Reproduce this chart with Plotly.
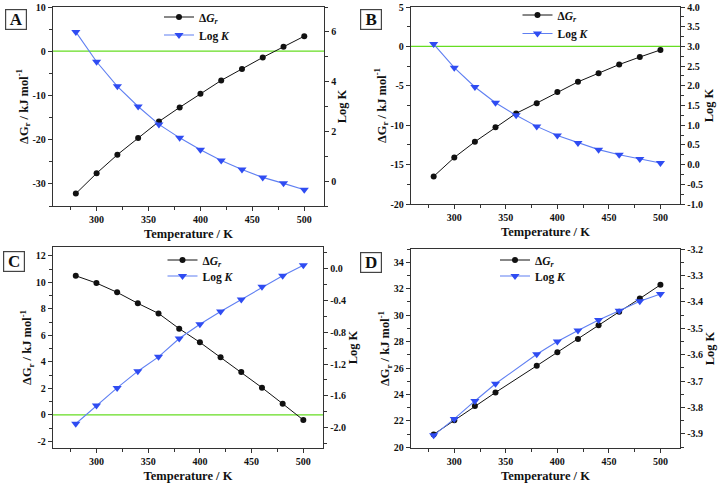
import plotly.graph_objects as go

W, H = 719, 483

# ---------------- data ----------------
T_full = [280, 300, 320, 340, 360, 380, 400, 420, 440, 460, 480, 500]
T_D = [280, 300, 320, 340, 380, 400, 420, 440, 460, 480, 500]

dG_A = [-32.2, -27.6, -23.4, -19.6, -15.9, -12.7, -9.6, -6.6, -4.0, -1.4, 1.0, 3.4]
logK_A = [6.0, 4.8, 3.81, 3.0, 2.28, 1.74, 1.26, 0.83, 0.47, 0.15, -0.09, -0.35]

dG_B = [-16.5, -14.1, -12.1, -10.25, -8.5, -7.2, -5.8, -4.5, -3.4, -2.3, -1.35, -0.45]
logK_B = [3.06, 2.46, 1.97, 1.57, 1.25, 0.97, 0.74, 0.55, 0.38, 0.25, 0.14, 0.04]

dG_C = [10.49, 9.94, 9.24, 8.41, 7.65, 6.5, 5.47, 4.34, 3.23, 2.05, 0.84, -0.39]
logK_C = [-1.95, -1.72, -1.5, -1.29, -1.11, -0.88, -0.70, -0.54, -0.39, -0.23, -0.09, 0.04]

dG_D = [20.98, 22.04, 23.12, 24.15, 26.17, 27.2, 28.2, 29.24, 30.25, 31.25, 32.29]
logK_D = [-3.905, -3.843, -3.775, -3.71, -3.598, -3.55, -3.508, -3.469, -3.434, -3.398, -3.37]

x_ticks = [300, 350, 400, 450, 500]
yL_ticks_A = [-30, -20, -10, 0, 10]
yR_ticks_A = [0, 2, 4, 6]
yL_ticks_B = [-20, -15, -10, -5, 0, 5]
yR_ticks_B = [-1.0, -0.5, 0.0, 0.5, 1.0, 1.5, 2.0, 2.5, 3.0, 3.5, 4.0]
yL_ticks_C = [-2, 0, 2, 4, 6, 8, 10, 12]
yR_ticks_C = [-2.0, -1.6, -1.2, -0.8, -0.4, 0.0]
yL_ticks_D = [20, 22, 24, 26, 28, 30, 32, 34]
yR_ticks_D = [-3.9, -3.8, -3.7, -3.6, -3.5, -3.4, -3.3, -3.2]

panel_labels = ["A", "B", "C", "D"]
x_title = "Temperature / K"
yL_title = "ΔG<sub>r</sub> / kJ mol<sup>-1</sup>"
yR_title = "Log K"
leg_dG = "Δ<i>G<sub>r</sub></i>"
leg_K = "Log <i>K</i>"

# ---------------- styles ----------------
FONT = "Liberation Serif"
BLACK = "#111111"
AX = "#333333"
BLUE_LINE = "#5f7ff2"
BLUE_MK = "#2f4cf2"
GREEN = "#66dd22"


def fx(px):
    return px / W


def fy(py):
    return 1 - py / H


panels = [
    dict(box=(53, 324, 7, 206), T=T_full, dG=dG_A, K=logK_A, yl=[-35, 10], yr=[-1, 7],
         ylt=yL_ticks_A, yrt=yR_ticks_A, lfmt="d", rfmt="d", lminor=5, rminor=1,
         lab=(16, 19), leg=(183, 17, 35)),
    dict(box=(411, 680, 7, 204), T=T_full, dG=dG_B, K=logK_B, yl=[-20, 5], yr=[-1, 4],
         ylt=yL_ticks_B, yrt=yR_ticks_B, lfmt="d", rfmt=".1f", lminor=2.5, rminor=0.25,
         lab=(370.5, 19), leg=(541.5, 15, 33.5)),
    dict(box=(53, 323, 247, 448), T=T_full, dG=dG_C, K=logK_C, yl=[-2.5, 12.66], yr=[-2.255, 0.27],
         ylt=yL_ticks_C, yrt=yR_ticks_C, lfmt="d", rfmt=".1f", lminor=1, rminor=0.2,
         lab=(14, 261), leg=(186.5, 260, 276)),
    dict(box=(411, 680, 249, 448), T=T_D, dG=dG_D, K=logK_D, yl=[19.95, 35], yr=[-3.953, -3.2],
         ylt=yL_ticks_D, yrt=yR_ticks_D, lfmt="d", rfmt=".1f", lminor=1, rminor=0.05,
         lab=(371, 262), leg=(519, 260, 276)),
]

fig = go.Figure()
layout = dict(
    width=W, height=H, margin=dict(l=0, r=0, t=0, b=0),
    paper_bgcolor="white", plot_bgcolor="white",
    font=dict(family=FONT, color=BLACK, weight="bold"),
    shapes=[], annotations=[], showlegend=True,
)

tickfont = dict(family=FONT, size=10, color=BLACK, weight="bold")
titlefont = dict(family=FONT, size=12.5, color=BLACK, weight="bold")
legfont = dict(family=FONT, size=11.5, color=BLACK, weight="bold")

for i, p in enumerate(panels):
    n = i + 1
    xa = "xaxis" if n == 1 else f"xaxis{n}"
    xr = "x" if n == 1 else f"x{n}"
    yl_n = 2 * i + 1
    yr_n = 2 * i + 2
    yla = "yaxis" if yl_n == 1 else f"yaxis{yl_n}"
    ylr = "y" if yl_n == 1 else f"y{yl_n}"
    yra = f"yaxis{yr_n}"
    yrr = f"y{yr_n}"
    x0, x1, t0, t1 = p["box"]
    leg1 = "legend" if yl_n == 1 else f"legend{yl_n}"
    leg2 = f"legend{yr_n}"

    layout[xa] = dict(
        domain=[fx(x0), fx(x1)], range=[258, 519], anchor=ylr,
        tickvals=x_ticks, ticktext=[str(v) for v in x_ticks],
        ticks="outside", ticklen=4, tickwidth=1, tickcolor=AX,
        minor=dict(dtick=25, tick0=275, ticks="outside", ticklen=2.5, tickcolor=AX),
        showline=True, linecolor=AX, linewidth=1.3, mirror=True,
        showgrid=False, zeroline=False, tickfont=tickfont,
        title=dict(text=x_title, font=titlefont, standoff=5), automargin=False,
    )
    layout[yla] = dict(
        domain=[fy(t1), fy(t0)], range=p["yl"], anchor=xr,
        tickvals=p["ylt"], ticktext=[format(v, p["lfmt"]) for v in p["ylt"]],
        ticks="outside", ticklen=4, tickwidth=1, tickcolor=AX,
        minor=dict(dtick=p["lminor"], ticks="outside", ticklen=2.5, tickcolor=AX),
        showline=True, linecolor=AX, linewidth=1.3,
        showgrid=False, zeroline=False, tickfont=tickfont,
        title=dict(text=yL_title, font=titlefont, standoff=1), automargin=False,
    )
    layout[yra] = dict(
        overlaying=ylr, side="right", range=p["yr"], anchor=xr,
        tickvals=p["yrt"], ticktext=[format(v, p["rfmt"]) for v in p["yrt"]],
        ticks="outside", ticklen=4, tickwidth=1, tickcolor=AX,
        minor=dict(dtick=p["rminor"], ticks="outside", ticklen=2.5, tickcolor=AX),
        showline=True, linecolor=AX, linewidth=1.3,
        showgrid=False, zeroline=False, tickfont=tickfont,
        title=dict(text=yR_title, font=titlefont, standoff=2), automargin=False,
    )

    layout["shapes"].append(dict(
        type="line", xref=f"{xr} domain", yref=ylr, x0=0, x1=1, y0=0, y1=0,
        line=dict(color=GREEN, width=1.3), layer="below",
    ))

    fig.add_trace(go.Scatter(
        x=p["T"], y=p["dG"], mode="lines+markers", name=leg_dG,
        xaxis=xr, yaxis=ylr, legend=leg1, showlegend=True,
        line=dict(color=BLACK, width=1),
        marker=dict(symbol="circle", size=6, color=BLACK),
    ))
    fig.add_trace(go.Scatter(
        x=p["T"], y=p["K"], mode="lines+markers", name=leg_K,
        xaxis=xr, yaxis=yrr, legend=leg2, showlegend=True,
        line=dict(color=BLUE_LINE, width=1.1),
        marker=dict(symbol="triangle-down", size=8, color=BLUE_MK),
    ))

    mx, ya, yb = p["leg"]
    for lname, yc in ((leg1, ya), (leg2, yb)):
        layout[lname] = dict(
            x=fx(mx - 24), y=fy(yc), xanchor="left", yanchor="middle",
            bgcolor="rgba(0,0,0,0)", borderwidth=0, font=legfont,
            itemwidth=30, orientation="v", visible=True,
        )

    cx, cy = p["lab"]
    layout["annotations"].append(dict(
        text=f"<b>{panel_labels[i]}</b>", xref="paper", yref="paper",
        x=fx(cx), y=fy(cy), xanchor="center", yanchor="middle", showarrow=False,
        font=dict(family=FONT, size=17, color=BLACK),
        bordercolor="#444444", borderwidth=1.2, borderpad=1.5,
        width=17, height=16,
    ))

fig.update_layout(**layout)
fig.write_html(
    "out.html",
    config={"displayModeBar": False},
    post_script="document.body.style.margin='0';document.body.style.padding='0';",
)
